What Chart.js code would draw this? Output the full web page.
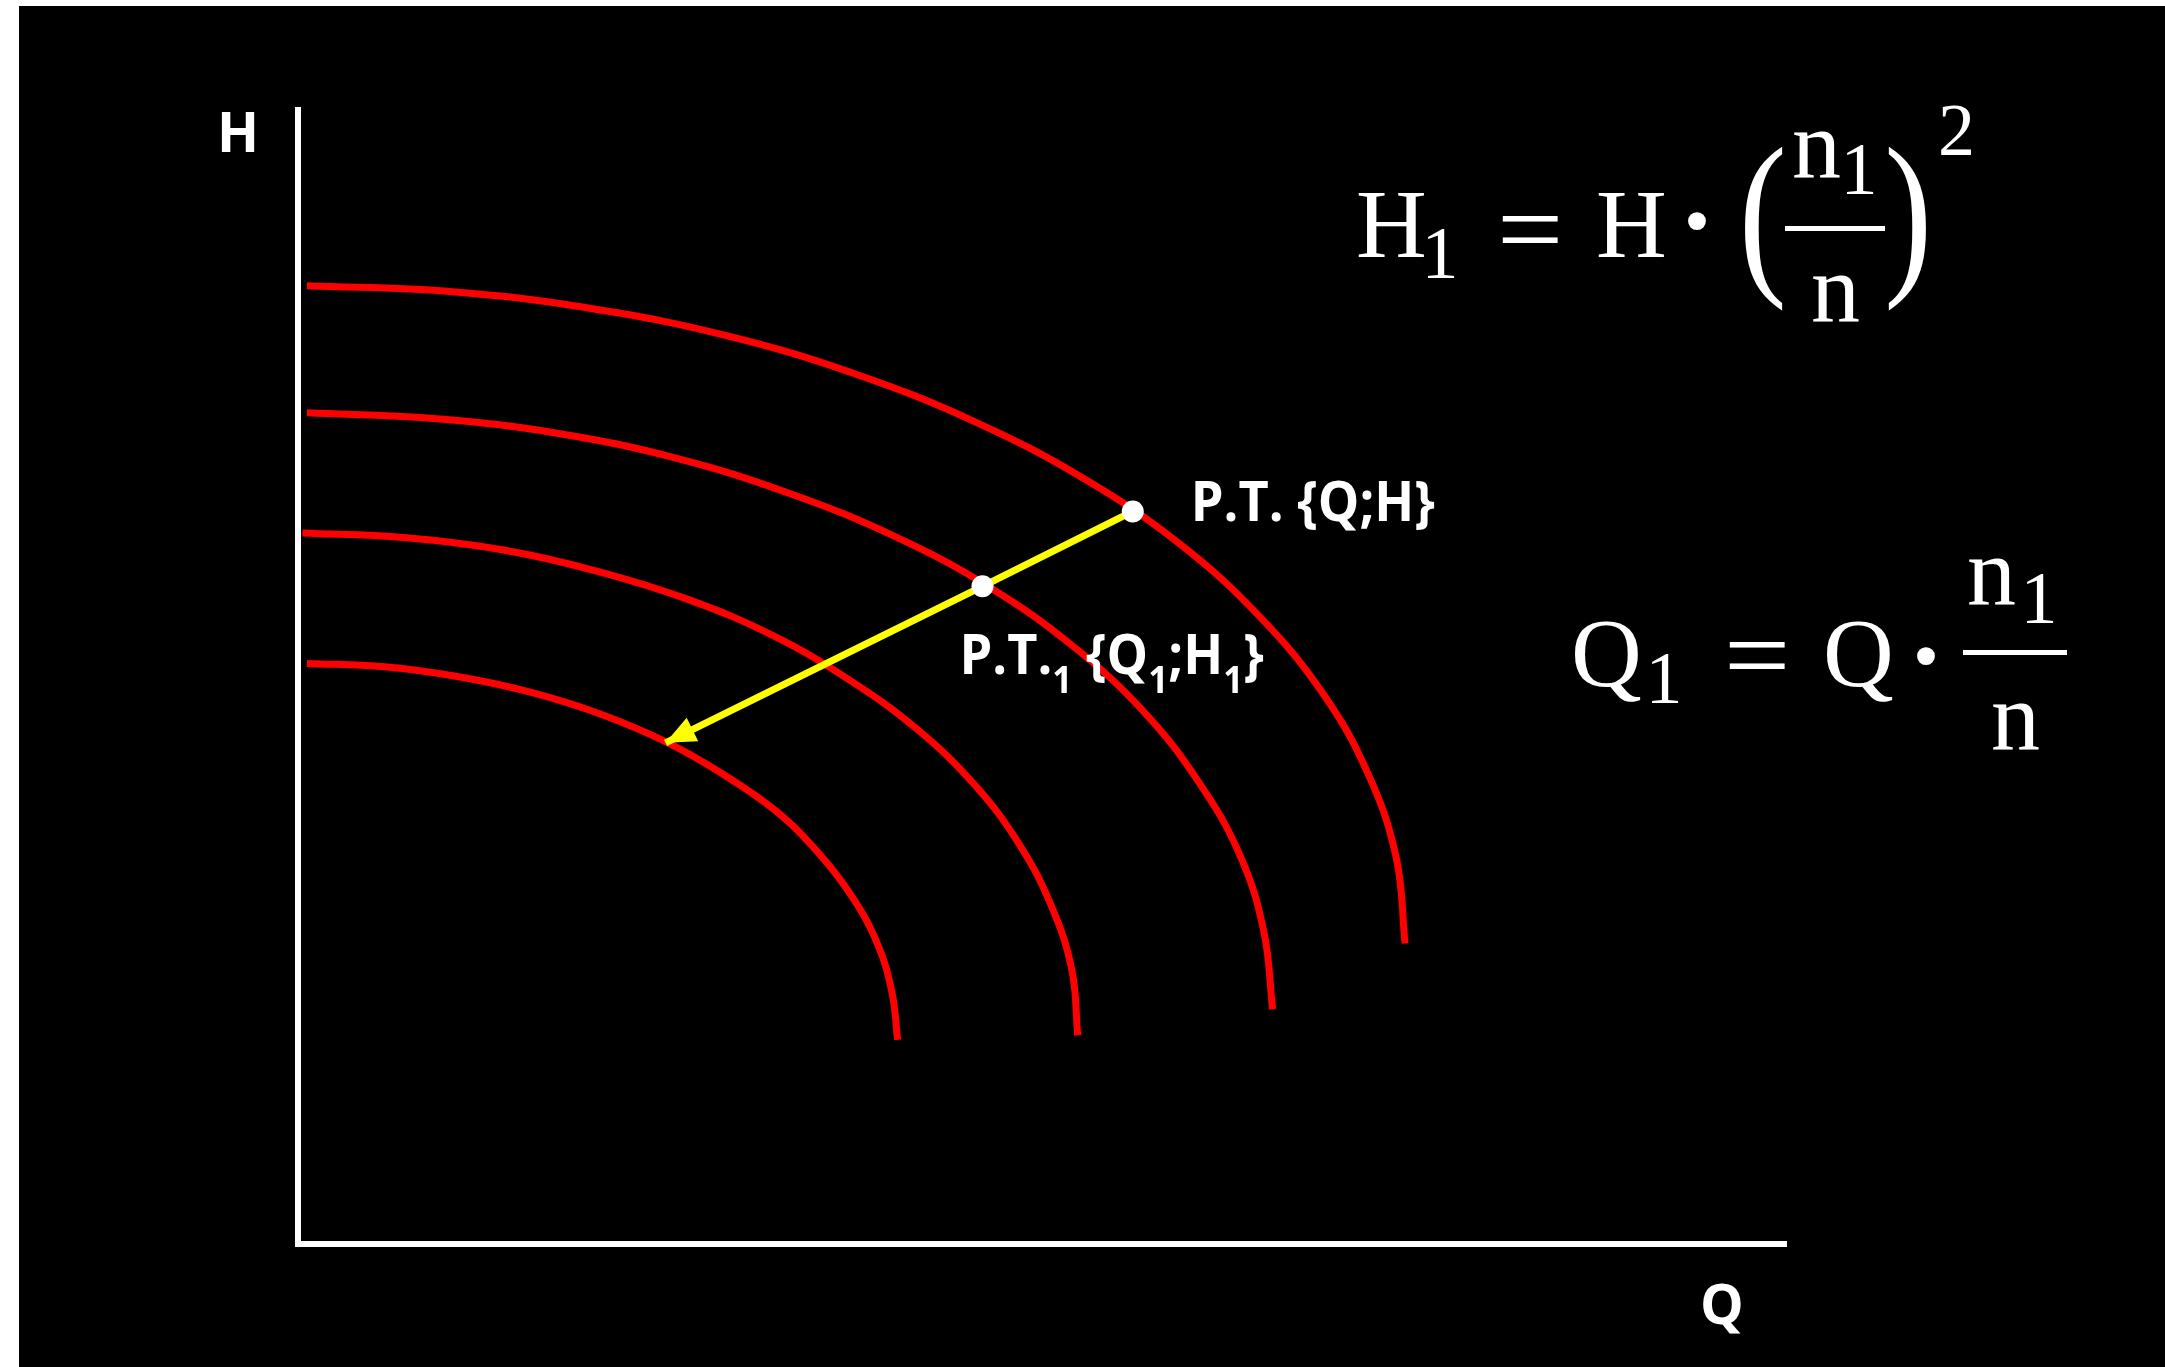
<!DOCTYPE html>
<html>
<head>
<meta charset="utf-8">
<title>Affinity laws - pump curves</title>
<script src="https://cdn.jsdelivr.net/npm/chart.js@4.4.1/dist/chart.umd.min.js"></script>
<style>
  html, body { margin: 0; padding: 0; background: #ffffff; overflow: hidden; }
  #pumpCurves { display: block; }
</style>
</head>
<body>
<canvas id="pumpCurves" width="2165" height="1367"></canvas>
<script>
// H-Q curves of the same pump at four speeds, fastest (n) on top
var curve1Q = [0.6, 10.2, 19.7, 28.8, 37.5, 45.5, 52.8, 59.2, 64.5, 68.8, 71.9, 73.8, 74.4];
var curve1H = [84.5, 84.0, 82.5, 80.1, 76.7, 72.5, 67.5, 61.8, 55.5, 48.7, 41.5, 34.1, 26.5];

var curve2Q = [0.6, 9.1, 17.4, 25.4, 33.0, 40.1, 46.5, 52.1, 56.8, 60.5, 63.3, 64.9, 65.5];
var curve2H = [73.3, 72.8, 71.5, 69.3, 66.2, 62.4, 57.9, 52.7, 47.0, 40.8, 34.3, 27.6, 20.7];

var curve3Q = [0.3, 7.1, 13.8, 20.2, 26.3, 32.0, 37.1, 41.6, 45.4, 48.4, 50.6, 52.0, 52.4];
var curve3H = [62.7, 62.3, 61.2, 59.3, 56.8, 53.6, 49.7, 45.4, 40.6, 35.4, 29.9, 24.2, 18.4];

var curve4Q = [0.6, 5.8, 10.9, 15.8, 20.4, 24.7, 28.6, 32.1, 34.9, 37.2, 38.9, 39.9, 40.3];
var curve4H = [51.2, 50.9, 50.0, 48.6, 46.7, 44.3, 41.4, 38.2, 34.6, 30.7, 26.6, 22.3, 18.0];

// operating points P.T. {Q;H} and P.T.1 {Q1;H1}
var opQ = [56.1, 46.0];
var opH = [64.6, 58.0];

// path of the operating point when the speed drops
var arrowQ = [56.1, 46.0, 24.7];
var arrowH = [64.6, 58.0, 44.2];

var axisMaxQ = 100;
var axisMaxH = 100;

var labelFont = 'bold 55px "Open Sans"';
var subFont = 'bold 37px "Open Sans"';
var mathFont = '98px "Liberation Serif"';
var mathSubFont = '74px "Liberation Serif"';
var parenFont = '120px "Liberation Serif"';

function toPoints(qs, hs) {
  var pts = [];
  for (var i = 0; i < qs.length; i++) {
    pts.push({x: qs[i], y: hs[i]});
  }
  return pts;
}

function redCurve(qs, hs) {
  return {
    data: toPoints(qs, hs),
    showLine: true,
    borderColor: '#ff0000',
    borderWidth: 7,
    pointRadius: 0,
    tension: 0.4,
    order: 2
  };
}

// draws a piece of text so that its ink box is centred on (cx, cy)
function inkAt(ctx, txt, font, cx, cy, sx, sy) {
  ctx.save();
  ctx.font = font;
  ctx.textAlign = 'left';
  ctx.textBaseline = 'alphabetic';
  var m = ctx.measureText(txt);
  var w = m.actualBoundingBoxLeft + m.actualBoundingBoxRight;
  var h = m.actualBoundingBoxAscent + m.actualBoundingBoxDescent;
  ctx.translate(cx, cy);
  ctx.scale(sx || 1, sy || 1);
  ctx.fillText(txt, -w / 2 + m.actualBoundingBoxLeft, h / 2 - m.actualBoundingBoxDescent);
  ctx.restore();
}

// writes a run of [text, isSubscript] parts from x along one baseline,
// squeezed a little sideways
function labelRun(ctx, parts, x, y) {
  ctx.save();
  ctx.translate(x, y);
  ctx.scale(0.95, 1);
  ctx.textAlign = 'left';
  ctx.textBaseline = 'alphabetic';
  var cx = 0;
  for (var i = 0; i < parts.length; i++) {
    var sub = parts[i][1];
    ctx.font = sub ? subFont : labelFont;
    ctx.fillText(parts[i][0], cx, sub ? 19 : 0);
    cx += ctx.measureText(parts[i][0]).width;
  }
  ctx.restore();
}

var backdrop = {
  id: 'backdrop',
  beforeDraw: function(chart) {
    var ctx = chart.ctx;
    ctx.save();
    ctx.fillStyle = '#ffffff';
    ctx.fillRect(0, 0, chart.width, chart.height);
    ctx.fillStyle = '#000000';
    ctx.fillRect(19, 6, chart.width - 19, chart.height - 6);
    ctx.restore();
  }
};

var annotations = {
  id: 'annotations',
  afterDatasetsDraw: function(chart) {
    var ctx = chart.ctx;
    var area = chart.chartArea;

    // arrow head at the end of the yellow line
    var arrowPts = chart.getDatasetMeta(4).data;
    var tip = arrowPts[arrowPts.length - 1];
    var prev = arrowPts[arrowPts.length - 2];
    var ang = Math.atan2(tip.y - prev.y, tip.x - prev.x);
    var len = 30, half = 13;
    ctx.save();
    ctx.fillStyle = '#ffff00';
    ctx.beginPath();
    ctx.moveTo(tip.x, tip.y);
    ctx.lineTo(tip.x - len * Math.cos(ang) - half * Math.sin(ang), tip.y - len * Math.sin(ang) + half * Math.cos(ang));
    ctx.lineTo(tip.x - len * Math.cos(ang) + half * Math.sin(ang), tip.y - len * Math.sin(ang) - half * Math.cos(ang));
    ctx.closePath();
    ctx.fill();
    ctx.restore();

    ctx.save();
    ctx.fillStyle = '#ffffff';

    // axis names
    ctx.font = labelFont;
    ctx.textAlign = 'center';
    ctx.textBaseline = 'alphabetic';
    ctx.fillText('H', area.left - 60, area.top + 42);
    ctx.fillText('Q', area.right - 64, area.bottom + 80);

    // operating point labels
    var op = chart.getDatasetMeta(5).data;
    labelRun(ctx, [['P.T. {Q;H}', false]], op[0].x + 58, op[0].y + 10);
    labelRun(ctx, [['P.T.', false], ['1', true], [' {Q', false], ['1', true], [';H', false], ['1', true], ['}', false]],
      op[1].x - 23, op[1].y + 88);

    // H1 = H * (n1/n)^2
    inkAt(ctx, 'H', mathFont, 1391, 225);
    inkAt(ctx, '1', mathSubFont, 1441, 253);
    inkAt(ctx, '=', mathFont, 1530, 230, 1.2, 1.1);
    inkAt(ctx, 'H', mathFont, 1631, 225);
    inkAt(ctx, '\u00b7', '150px "Liberation Serif"', 1697, 221);
    inkAt(ctx, '(', parenFont, 1764, 228, 1.2, 1.5);
    inkAt(ctx, 'n', mathFont, 1817, 154);
    inkAt(ctx, '1', mathSubFont, 1860, 169);
    ctx.fillRect(1785, 226, 100, 5);
    inkAt(ctx, 'n', mathFont, 1836, 298);
    inkAt(ctx, ')', parenFont, 1907, 228, 1.2, 1.5);
    inkAt(ctx, '2', mathSubFont, 1956, 130);

    // Q1 = Q * n1/n
    inkAt(ctx, 'Q', mathFont, 1608, 661);
    inkAt(ctx, '1', mathSubFont, 1665, 678);
    inkAt(ctx, '=', mathFont, 1757, 656, 1.2, 1.1);
    inkAt(ctx, 'Q', mathFont, 1860, 661);
    inkAt(ctx, '\u00b7', '150px "Liberation Serif"', 1926, 656);
    inkAt(ctx, 'n', mathFont, 1992, 581);
    inkAt(ctx, '1', mathSubFont, 2040, 598);
    ctx.fillRect(1963, 650, 104, 5);
    inkAt(ctx, 'n', mathFont, 2016, 726);

    ctx.restore();
  }
};

var canvas = document.getElementById('pumpCurves');
var ctx = canvas.getContext('2d');

var chart = new Chart(ctx, {
  type: 'scatter',
  data: {
    datasets: [
      redCurve(curve1Q, curve1H),
      redCurve(curve2Q, curve2H),
      redCurve(curve3Q, curve3H),
      redCurve(curve4Q, curve4H),
      {
        data: toPoints(arrowQ, arrowH),
        showLine: true,
        borderColor: '#ffff00',
        borderWidth: 7,
        pointRadius: 0,
        tension: 0,
        order: 1
      },
      {
        data: toPoints(opQ, opH),
        showLine: false,
        backgroundColor: '#ffffff',
        borderWidth: 0,
        pointRadius: 11,
        order: 0
      }
    ]
  },
  options: {
    responsive: false,
    animation: false,
    events: [],
    layout: { padding: { left: 298, top: 110, right: 379, bottom: 123 } },
    plugins: { legend: { display: false }, tooltip: { enabled: false } },
    scales: {
      x: {
        type: 'linear', min: 0, max: axisMaxQ,
        grid: { display: false, drawTicks: false },
        ticks: { display: false },
        border: { display: true, color: '#ffffff', width: 6 }
      },
      y: {
        type: 'linear', min: 0, max: axisMaxH,
        grid: { display: false, drawTicks: false },
        ticks: { display: false },
        border: { display: true, color: '#ffffff', width: 6 }
      }
    }
  },
  plugins: [backdrop, annotations]
});
</script>
</body>
</html>
